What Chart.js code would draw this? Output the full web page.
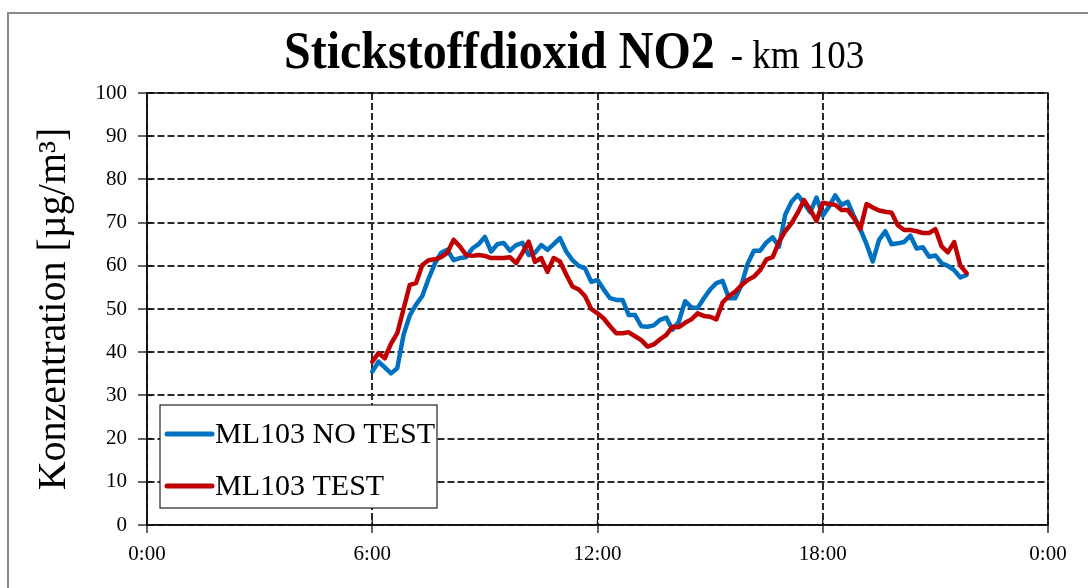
<!DOCTYPE html>
<html>
<head>
<meta charset="utf-8">
<script src="https://cdn.jsdelivr.net/npm/chart.js@4/dist/chart.umd.min.js"></script>
<style>
  html, body { margin: 0; padding: 0; background: #fff; }
  #wrap { position: relative; width: 1088px; height: 588px; }
</style>
</head>
<body>
<div id="wrap"><canvas id="c" width="1088" height="588"></canvas></div>
<script>
// NO2 concentration along km 103, 10-minute readings starting at 6:00
const startHour = 6;
const stepMinutes = 10;

const seriesLabels = ['ML103 NO TEST', 'ML103 TEST'];
const seriesColors = ['#0070C0', '#C00000'];

const noTest = [
  35.5, 37.8, 36.5, 35.1, 36.3, 44.0, 48.5, 51.0, 53.0, 57.0,
  60.5, 63.0, 63.7, 61.3, 61.8, 62.0, 64.0, 65.0, 66.7, 63.3,
  65.0, 65.3, 63.5, 64.8, 65.3, 62.5, 63.0, 64.8, 63.7, 65.0,
  66.4, 63.3, 61.3, 60.0, 59.4, 56.3, 56.7, 54.5, 52.5, 52.1,
  52.1, 48.6, 48.6, 46.0, 45.9, 46.2, 47.5, 48.0, 45.2, 47.1,
  51.8, 50.4, 50.2, 52.5, 54.5, 56.0, 56.5, 52.5, 52.5, 55.5,
  60.5, 63.5, 63.5, 65.4, 66.6, 64.4, 71.8, 74.8, 76.4, 74.5,
  72.4, 75.8, 71.6, 73.7, 76.3, 74.1, 74.8, 71.4, 68.5, 65.0,
  61.0, 66.0, 68.0, 65.0, 65.2, 65.5, 67.0, 64.0, 64.3, 62.1,
  62.4, 60.6, 60.0, 59.0, 57.3, 57.9
];

const test = [
  37.8, 39.8, 38.6, 42.0, 44.4, 50.0, 55.6, 56.0, 60.2, 61.3,
  61.5, 62.0, 63.0, 66.0, 64.5, 62.5, 62.3, 62.5, 62.3, 61.8,
  61.8, 61.8, 62.0, 60.6, 63.0, 65.6, 60.9, 61.8, 58.6, 61.8,
  61.0, 58.0, 55.2, 54.5, 53.0, 50.0, 49.0, 47.8, 46.0, 44.4,
  44.4, 44.6, 43.7, 42.8, 41.3, 41.8, 43.0, 44.0, 45.9, 45.8,
  46.8, 47.6, 49.0, 48.4, 48.2, 47.6, 51.5, 53.0, 54.0, 55.5,
  56.7, 57.5, 59.0, 61.5, 62.0, 65.5, 68.0, 69.8, 72.3, 75.2,
  73.0, 70.4, 74.6, 74.3, 74.1, 72.9, 72.9, 71.0, 68.5, 74.3,
  73.5, 72.8, 72.5, 72.3, 69.4, 68.3, 68.3, 68.0, 67.6, 67.6,
  68.5, 64.5, 63.1, 65.5, 60.0, 58.3
];

const xTicks = [0, 6, 12, 18, 24];
const xTickLabels = ['0:00', '6:00', '12:00', '18:00', '0:00'];
const yTitle = 'Konzentration [µg/m³]';
const titleMain = 'Stickstoffdioxid NO2';
const titleSub = '- km 103';

const hours = noTest.map((_, i) => startHour + i * stepMinutes / 60);
const toPoints = vals => vals.map((v, i) => ({ x: hours[i], y: v }));

const SERIF = '"Liberation Serif", "Times New Roman", serif';

// page frame, white background and title
const framePlugin = {
  id: 'frame',
  beforeDraw(chart) {
    const ctx = chart.ctx;
    ctx.save();
    ctx.fillStyle = '#fff';
    ctx.fillRect(0, 0, chart.width, chart.height);
    ctx.strokeStyle = '#8a8a8a';
    ctx.lineWidth = 2;
    ctx.strokeRect(8, 13, chart.width + 20, chart.height + 20);

    // two-part title
    const x0 = 284, base = 68;
    ctx.fillStyle = '#000';
    ctx.textBaseline = 'alphabetic';
    ctx.textAlign = 'left';
    ctx.font = 'bold 48px ' + SERIF;
    const w1 = ctx.measureText(titleMain).width;
    ctx.save();
    ctx.translate(x0, base);
    ctx.scale(1, 1.1);
    ctx.fillText(titleMain, 0, 0);
    ctx.font = '37px ' + SERIF;
    ctx.fillText(titleSub, w1 + 16, 0);
    ctx.restore();
    ctx.restore();
  }
};

// solid box around the plot and the legend inside it
const boxLegendPlugin = {
  id: 'boxLegend',
  afterDatasetsDraw(chart) {
    const { ctx, chartArea: a } = chart;
    ctx.save();
    ctx.strokeStyle = '#111';
    ctx.lineWidth = 1.5;
    ctx.setLineDash([]);
    ctx.strokeRect(a.left, a.top, a.right - a.left, a.bottom - a.top);

    // tick stubs reaching into the plot
    const xs = chart.scales.x, ys = chart.scales.y;
    ctx.lineWidth = 1.3;
    ys.ticks.forEach(t => {
      const y = ys.getPixelForValue(t.value);
      ctx.beginPath(); ctx.moveTo(a.left, y); ctx.lineTo(a.left + 5, y); ctx.stroke();
    });
    xs.ticks.forEach(t => {
      const x = xs.getPixelForValue(t.value);
      ctx.beginPath(); ctx.moveTo(x, a.bottom); ctx.lineTo(x, a.bottom - 5); ctx.stroke();
    });

    // legend
    const lx = 160, ly = 405, lw = 277, lh = 103;
    ctx.fillStyle = '#fff';
    ctx.fillRect(lx, ly, lw, lh);
    ctx.strokeStyle = '#222';
    ctx.lineWidth = 1.2;
    ctx.strokeRect(lx, ly, lw, lh);
    ctx.font = '30px ' + SERIF;
    ctx.textBaseline = 'middle';
    ctx.textAlign = 'left';
    chart.data.datasets.forEach((ds, i) => {
      const yy = ly + 29 + i * 52;
      ctx.strokeStyle = ds.borderColor;
      ctx.lineWidth = 5;
      ctx.lineCap = 'round';
      ctx.beginPath(); ctx.moveTo(lx + 7, yy); ctx.lineTo(lx + 52, yy); ctx.stroke();
      ctx.fillStyle = '#000';
      ctx.fillText(ds.label, lx + 55, yy + 1);
    });
    ctx.restore();
  }
};

const gridColor = '#2a2a2a';

new Chart(document.getElementById('c'), {
  type: 'line',
  data: {
    datasets: [
      {
        label: seriesLabels[0], data: toPoints(noTest), borderColor: seriesColors[0],
        borderWidth: 4.5, pointRadius: 0, tension: 0, order: 2,
        borderJoinStyle: 'round', borderCapStyle: 'round', fill: false
      },
      {
        label: seriesLabels[1], data: toPoints(test), borderColor: seriesColors[1],
        borderWidth: 4.5, pointRadius: 0, tension: 0, order: 1,
        borderJoinStyle: 'round', borderCapStyle: 'round', fill: false
      }
    ]
  },
  options: {
    responsive: false,
    animation: false,
    devicePixelRatio: 1,
    layout: { padding: { left: 30, right: 40, top: 93, bottom: 0 } },
    plugins: { legend: { display: false }, tooltip: { enabled: false }, title: { display: false } },
    scales: {
      x: {
        type: 'linear', min: 0, max: 24,
        afterBuildTicks(scale) { scale.ticks = xTicks.map(v => ({ value: v })); },
        afterFit(scale) { scale.height = 63; },
        ticks: {
          callback: (v) => xTickLabels[xTicks.indexOf(v)],
          font: { family: SERIF, size: 21 }, color: '#000', padding: 9, maxRotation: 0
        },
        grid: {
          color: gridColor, lineWidth: 2,
          tickLength: 8, tickColor: '#111', tickWidth: 1.3, tickBorderDash: []
        },
        border: { display: true, color: '#111', width: 1.5, dash: [7, 3] }
      },
      y: {
        min: 0, max: 100,
        afterFit(scale) { scale.width = 117; },
        ticks: {
          stepSize: 10, font: { family: SERIF, size: 21 }, color: '#000', padding: 11
        },
        grid: {
          color: gridColor, lineWidth: 2,
          tickLength: 9, tickColor: '#111', tickWidth: 1.3, tickBorderDash: []
        },
        border: { display: true, color: '#111', width: 1.5, dash: [7, 3] },
        title: {
          display: true, text: yTitle, color: '#000',
          font: { family: SERIF, size: 40, weight: 'normal' }, padding: { top: 0, bottom: 0 }
        }
      }
    }
  },
  plugins: [framePlugin, boxLegendPlugin]
});
</script>
</body>
</html>
